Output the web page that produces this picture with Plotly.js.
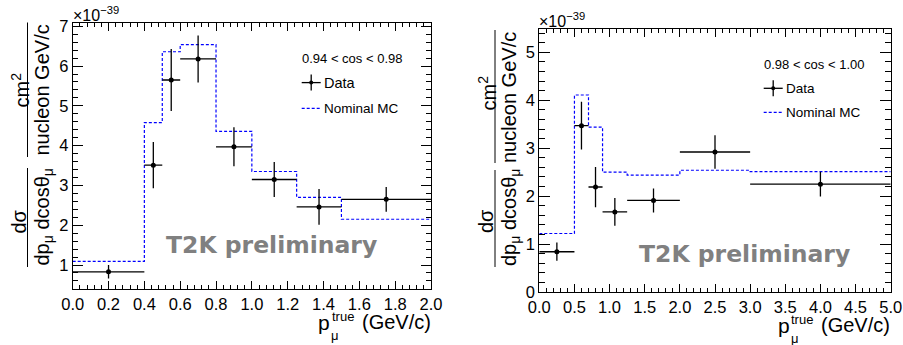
<!DOCTYPE html>
<html>
<head>
<meta charset="utf-8">
<script src="https://cdn.plot.ly/plotly-3.0.1.min.js"></script>
<style>html,body{margin:0;padding:0;background:#fff;}#plot{width:903px;height:345px;}</style>
</head>
<body>
<div id="plot"></div>
<script>
// ---------------- data (values in units of 1e-39) ----------------
// Left panel: 0.94 < cos < 0.98
const edgesA   = [0.0, 0.4, 0.5, 0.6, 0.8, 1.0, 1.25, 1.5, 2.0];
const dataA    = [0.83, 3.51, 5.65, 6.18, 3.97, 3.15, 2.46, 2.65];
const errA     = [0.17, 0.58, 0.78, 0.59, 0.49, 0.44, 0.45, 0.31];
const mcA      = [1.09, 4.58, 6.36, 6.54, 4.36, 3.35, 2.70, 2.15];
// Right panel: 0.98 < cos < 1.00
const edgesB   = [0.0, 0.5, 0.7, 0.9, 1.25, 2.0, 3.0, 5.0];
const dataB    = [0.84, 3.47, 2.19, 1.67, 1.91, 2.92, 2.25];
const errB     = [0.19, 0.50, 0.42, 0.29, 0.25, 0.35, 0.26];
const mcB      = [1.22, 4.11, 3.44, 2.50, 2.44, 2.54, 2.51];

const labelA = "0.94 &lt; cos &lt; 0.98";
const labelB = "0.98 &lt; cos &lt; 1.00";
const legData = "Data";
const legMC = "Nominal MC";
const watermark = "T2K preliminary";

// ---------------- helpers ----------------
const W = 903, H = 345;
const PX = v => v / W;
const PY = v => 1 - v / H;
const FONT = "Liberation Sans, Arial, Helvetica, sans-serif";

function centers(e){ const c=[]; for(let i=0;i<e.length-1;i++) c.push((e[i]+e[i+1])/2); return c; }
function halfw(e){ const c=[]; for(let i=0;i<e.length-1;i++) c.push((e[i+1]-e[i])/2); return c; }
function stepY(v){ return v.concat([v[v.length-1]]); }

function mcTrace(edges, mc, xa, ya){
  return {x: edges, y: stepY(mc), xaxis: xa, yaxis: ya, type:'scatter', mode:'lines',
    line:{shape:'hv', color:'#0000ff', width:1.2, dash:'3px,2px'}, showlegend:false, hoverinfo:'skip'};
}
function dataTrace(edges, d, err, xa, ya){
  return {x: centers(edges), y: d, xaxis: xa, yaxis: ya, type:'scatter', mode:'markers',
    marker:{symbol:'circle', size:5, color:'#000'},
    error_x:{type:'data', array: halfw(edges), visible:true, width:0, thickness:1.3, color:'#000'},
    error_y:{type:'data', array: err, visible:true, width:0, thickness:1.3, color:'#000'},
    showlegend:false, hoverinfo:'skip'};
}

const traces = [
  mcTrace(edgesA, mcA, 'x', 'y'),
  dataTrace(edgesA, dataA, errA, 'x', 'y'),
  mcTrace(edgesB, mcB, 'x2', 'y2'),
  dataTrace(edgesB, dataB, errB, 'x2', 'y2')
];

function xax(domain, range, dtick, minor, anchor){
  return {domain: domain, range: range, anchor: anchor, dtick: dtick, tick0: 0, tickformat: '.1f',
    ticks:'inside', ticklen: 8, tickwidth: 1, tickcolor:'#000',
    showline:true, linecolor:'#000', linewidth:1, mirror:'ticks',
    showgrid:false, zeroline:false, fixedrange:true,
    minor:{dtick: minor, tick0:0, ticks:'inside', ticklen:4, tickwidth:1, tickcolor:'#000', showgrid:false},
    tickfont:{family:FONT, size:16.5, color:'#000'}};
}
function yax(domain, range, minor, anchor){
  return {domain: domain, range: range, anchor: anchor, dtick: 1, tick0: 0,
    ticks:'inside', ticklen: 10.5, tickwidth: 1, tickcolor:'#000',
    showline:true, linecolor:'#000', linewidth:1, mirror:'ticks',
    showgrid:false, zeroline:false, fixedrange:true,
    minor:{dtick: minor, tick0:0, ticks:'inside', ticklen:5.3, tickwidth:1, tickcolor:'#000', showgrid:false},
    tickfont:{family:FONT, size:16.5, color:'#000'}, ticklabelstandoff: 0};
}

// frames in px
const fA = {l:72.7, r:431.0, t:22.7, b:289.3};
const fB = {l:539.3, r:890.7, t:29.3, b:292.0};

const annotations = [];
const shapes = [];
function ann(text, x, y, o){
  o = o || {};
  annotations.push(Object.assign({text:text, xref:'paper', yref:'paper', x:PX(x), y:PY(y),
    showarrow:false, xanchor:'center', yanchor:'middle', borderpad:0,
    font:{family:FONT, size:16, color:'#000'}}, o));
}
function line(x0,y0,x1,y1,o){
  shapes.push(Object.assign({type:'line', xref:'paper', yref:'paper', x0:PX(x0), y0:PY(y0), x1:PX(x1), y1:PY(y1),
    line:{color:'#000', width:1}}, o||{}));
}

function decorate(f, opt){
  // exponent label
  ann("×10<sup>−39</sup>", f.l - 1, opt.expY, {xanchor:'left', font:{family:FONT, size:16, color:'#000'}});
  // x title: p_mu^true (GeV/c)
  const xr = f.r;
  ann("(GeV/c)", xr + 0.5, f.b + 33, {xanchor:'right', font:{family:FONT, size:20, color:'#000'}});
  ann("p", xr - 100, f.b + 33, {xanchor:'right', font:{family:FONT, size:21, color:'#000'}});
  ann("true", xr - 100.5, f.b + 27.5, {xanchor:'left', font:{family:FONT, size:13, color:'#000'}});
  ann("μ", xr - 96, f.b + 46, {xanchor:'center', font:{family:FONT, size:13, color:'#000'}});
  // y title fraction
  const lx = opt.lineX;
  ann("cm<sup>2</sup>", lx - 8, opt.cmY, {textangle:-90, font:{family:FONT, size:20, color:'#000'}});
  line(lx, opt.up0, lx, opt.up1);
  ann("nucleon GeV/c", lx + 14, opt.nucY, {textangle:-90, font:{family:FONT, size:20, color:'#000'}});
  ann("dσ", lx - 9, opt.dsY, {textangle:-90, font:{family:FONT, size:20, color:'#000'}});
  line(lx, opt.lo0, lx, opt.lo1);
  ann("dp<sub>μ</sub> dcosθ<sub>μ</sub>", lx + 15, opt.denY, {textangle:-90, font:{family:FONT, size:20, color:'#000'}});
  // watermark
  ann(watermark, opt.wmX, opt.wmY, {font:{family:"DejaVu Sans, sans-serif", size:23.5, color:'#808080', weight:'bold'}});
  // legend
  const L = opt.leg;
  ann(opt.label, L.x, L.y0, {xanchor:'left', font:{family:FONT, size:13, color:'#000'}});
  line(L.x + 1, L.y1, L.x + 20, L.y1, {line:{color:'#000', width:1.3}});
  line(L.x + 10.5, L.y1 - 8, L.x + 10.5, L.y1 + 8, {line:{color:'#000', width:1.3}});
  shapes.push({type:'circle', xref:'paper', yref:'paper', x0:PX(L.x+8.5), x1:PX(L.x+12.5), y0:PY(L.y1+2), y1:PY(L.y1-2),
    fillcolor:'#000', line:{color:'#000', width:0}});
  ann(legData, L.x + 22.5, L.y1, {xanchor:'left', font:{family:FONT, size:L.fs, color:'#000'}});
  line(L.x + 1, L.y2, L.x + 20, L.y2, {line:{color:'#0000ff', width:1.2, dash:'3px,2px'}});
  ann(legMC, L.x + 22.5, L.y2, {xanchor:'left', font:{family:FONT, size:13.5, color:'#000'}});
}

decorate(fA, {expY:14, lineX:27.5, cmY:90, up0:22.5, up1:157, nucY:90, lo0:168, lo1:267, dsY:222, denY:217,
  wmX:271.5, wmY:245, label: labelA, leg:{x:300.7, y0:58.3, y1:82.6, y2:108.3, fs:14.5}});
decorate(fB, {expY:20, lineX:495, cmY:93.5, up0:30, up1:163, nucY:97, lo0:170, lo1:267, dsY:221, denY:218,
  wmX:744, wmY:254, label: labelB, leg:{x:762.7, y0:64, y1:88.3, y2:112.3, fs:13.5}});

const layout = {
  width: W, height: H,
  margin:{l:0, r:0, t:0, b:0, pad:0},
  paper_bgcolor:'#fff', plot_bgcolor:'#fff',
  showlegend:false,
  xaxis: xax([PX(fA.l), PX(fA.r)], [0, 2], 0.2, 0.04, 'y'),
  yaxis: yax([PY(fA.b), PY(fA.t)], [0.39, 7.09], 0.2, 'x'),
  xaxis2: xax([PX(fB.l), PX(fB.r)], [0, 5], 0.5, 0.1, 'y2'),
  yaxis2: yax([PY(fB.b), PY(fB.t)], [0, 5.48], 0.2, 'x2'),
  annotations: annotations,
  shapes: shapes
};

Plotly.newPlot('plot', traces, layout, {staticPlot:true, displayModeBar:false});
</script>
</body>
</html>
